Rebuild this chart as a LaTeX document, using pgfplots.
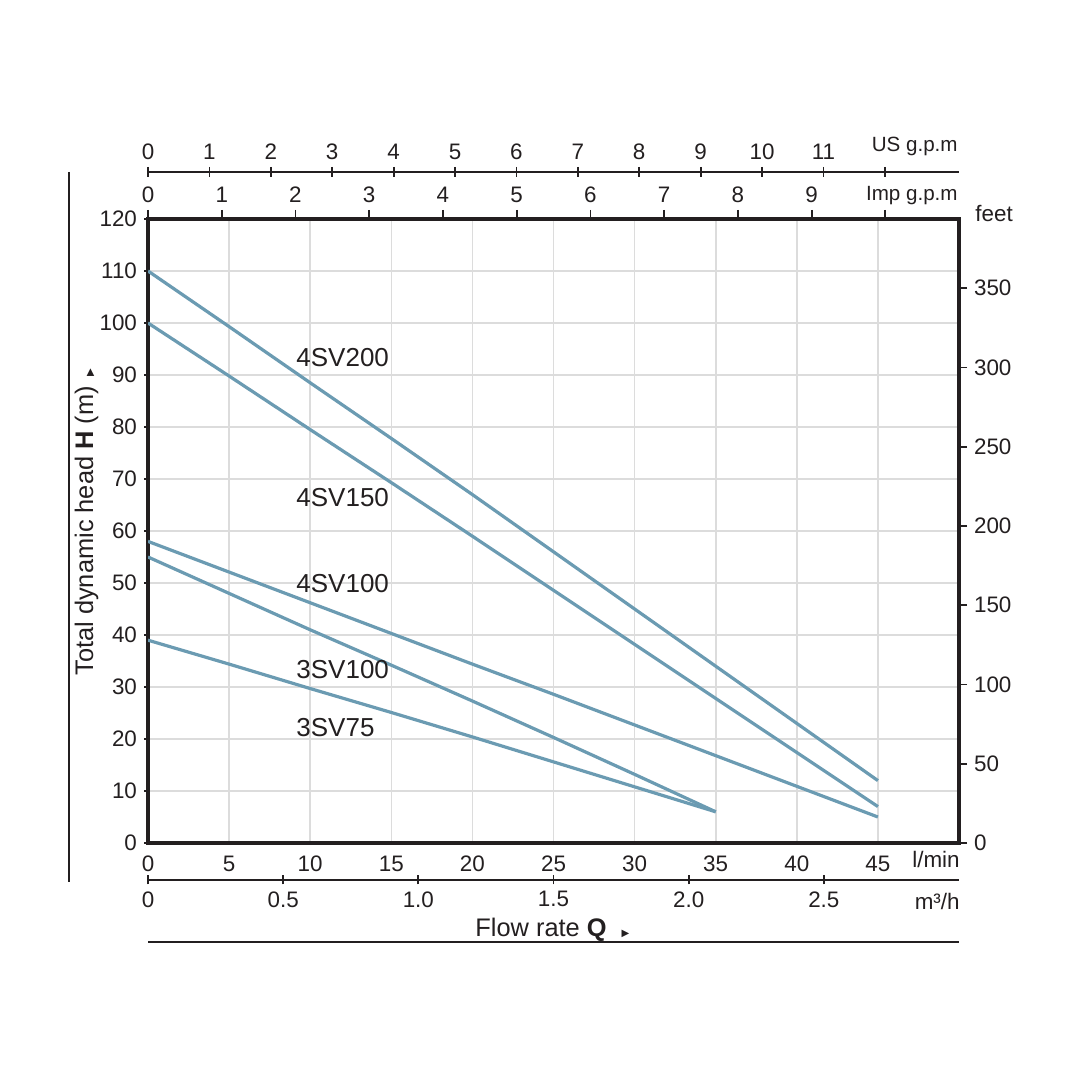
\documentclass[border=0pt]{standalone}
\usepackage{pgfplots}
\pgfplotsset{compat=1.18}
\usepackage{fontspec}
\setmainfont{Liberation Sans}
\newfontfamily\dejavu{DejaVu Sans}
\definecolor{curve}{HTML}{6B9BB2}
\definecolor{gridc}{HTML}{DCDCDC}
\definecolor{ink}{HTML}{231F20}
\newcommand{\tickfont}{\fontsize{11.2}{13}\selectfont}
\pgfplotsset{every axis/.append style={
  /pgf/number format/assume math mode=true,
  scale only axis,
  tick label style={font=\tickfont, text=ink},
  tick style={ink, line width=0.9pt},
  tick align=outside,
}}
\begin{document}
\begin{tikzpicture}[x=0.5pt,y=0.5pt]
\path[use as bounding box] (0,0) rectangle (1080,1080);

% main axis (l/min vs m)
\begin{axis}[at={(74pt,118.5pt)}, anchor=south west,
  width=405.5pt, height=312pt,
  xmin=0, xmax=50, ymin=0, ymax=120,
  axis line style={ink, line width=1.7pt},
  xtick={0,5,...,45}, ytick={0,10,...,120},
  xtick pos=bottom, ytick pos=left,
  xtick style={draw=none}, major tick length=2pt,
  grid=major, grid style={gridc, line width=0.8pt},
  xticklabel style={yshift=-1pt},
]
\addplot[curve, line width=1.6pt] coordinates {(0,110) (5,99.3) (10,88.5) (15,77.8) (20,67) (25,56) (30,45) (35,34) (40,23) (45,12)};
\addplot[curve, line width=1.6pt] coordinates {(0,100) (5,89.8) (10,79.5) (15,69.3) (20,59) (25,48.6) (30,38.2) (35,27.8) (40,17.4) (45,7)};
\addplot[curve, line width=1.6pt] coordinates {(0,58) (5,52.1) (10,46.2) (15,40.3) (20,34.4) (25,28.6) (30,22.7) (35,16.8) (40,10.9) (45,5)};
\addplot[curve, line width=1.6pt] coordinates {(0,55) (5,48) (10,41) (15,34.2) (20,27.3) (25,20.3) (30,13.2) (35,6)};
\addplot[curve, line width=1.6pt] coordinates {(0,39) (5,34.4) (10,29.7) (15,25.1) (20,20.4) (25,15.6) (30,10.8) (35,6)};
\end{axis}

% Imp g.p.m (top of main axis)
\begin{axis}[at={(74pt,118.5pt)}, anchor=south west,
  width=405.5pt, height=312pt,
  xmin=0, xmax=10.9986, ymin=0, ymax=1,
  axis line style={draw=none},
  xtick={0,1,...,10}, xticklabels={0,1,2,3,4,5,6,7,8,9,{}},
  ytick=\empty,
  xtick pos=upper, xticklabel pos=upper,
  major tick length=4.5pt,
]
\end{axis}

% feet (right of main axis)
\begin{axis}[at={(74pt,118.5pt)}, anchor=south west,
  width=405.5pt, height=312pt,
  xmin=0, xmax=1, ymin=0, ymax=393.70,
  axis line style={draw=none},
  ytick={0,50,...,350}, xtick=\empty,
  ytick pos=upper, yticklabel pos=upper,
  major tick length=4pt,
]
\end{axis}

% US g.p.m
\begin{axis}[at={(74pt,454pt)}, anchor=north west,
  width=405.5pt, height=1pt,
  xmin=0, xmax=13.2086, ymin=0, ymax=1,
  axis x line=top, axis y line=none,
  axis line style={-, ink, line width=1pt},
  xtick={0,1,...,12}, xticklabels={0,1,2,3,4,5,6,7,8,9,10,11,{}},
  ytick=\empty,
  major tick length=5pt,
]
\end{axis}

% m3/h
\begin{axis}[at={(74pt,100pt)}, anchor=south west,
  width=405.5pt, height=1pt,
  xmin=0, xmax=3, ymin=0, ymax=1,
  axis x line=bottom, axis y line=none,
  axis line style={-, ink, line width=1pt},
  xtick={0,0.5,1,1.5,2,2.5}, xticklabels={0,0.5,1.0,1.5,2.0,2.5},
  ytick=\empty,
  major tick length=4.5pt,
]
\end{axis}

% frame lines
\draw[ink, line width=1pt] (69,{1080-172}) -- (69,{1080-882});
\draw[ink, line width=1pt] (148,{1080-942}) -- (959,{1080-942});

% unit labels
\node[anchor=base east, inner sep=0, text=ink, font=\fontsize{10.3}{12}\selectfont] at (958,{1080-152}) {US g.p.m};
\node[anchor=base east, inner sep=0, text=ink, font=\fontsize{10.3}{12}\selectfont] at (958,{1080-201}) {Imp g.p.m};
\node[anchor=base west, inner sep=0, text=ink, font=\tickfont] at (975,{1080-222}) {feet};
\node[anchor=base east, inner sep=0, text=ink, font=\tickfont] at (960,{1080-868}) {l/min};
\node[anchor=base east, inner sep=0, text=ink, font=\tickfont] at (960,{1080-910}) {m³/h};

% axis titles
\node[anchor=base west, inner sep=0, text=ink, font=\fontsize{12.7}{15}\selectfont] at (475,{1080-937}) {Flow rate \textbf{Q}\hspace{7.5pt}{\dejavu\fontsize{5}{5}\selectfont ▶}};
\node[rotate=90, anchor=base, inner sep=0, text=ink, font=\fontsize{12.7}{15}\selectfont] at (93,{1080-522}) {Total dynamic head \textbf{H} (m)\hspace{5pt}{\dejavu\fontsize{5}{5}\selectfont ▶}};

% curve labels
\begin{scope}[every node/.style={anchor=base west, inner sep=0, text=ink, font=\fontsize{13}{15}\selectfont}]
\node at (296,{1080-367}) {4SV200};
\node at (296,{1080-507}) {4SV150};
\node at (296,{1080-593}) {4SV100};
\node at (296,{1080-679}) {3SV100};
\node at (296,{1080-737}) {3SV75};
\end{scope}
\end{tikzpicture}
\end{document}
